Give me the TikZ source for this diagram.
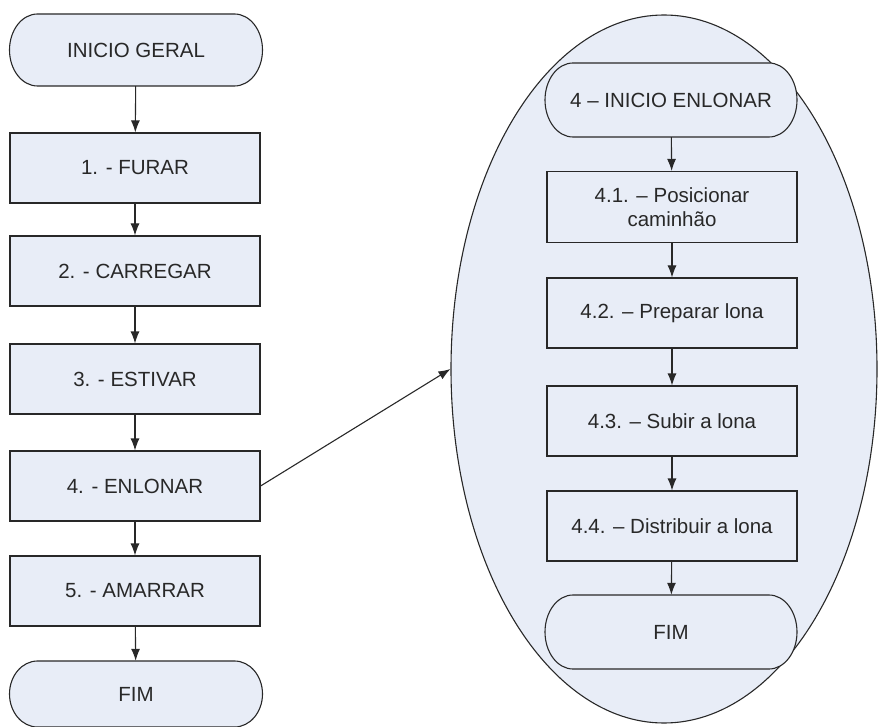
\documentclass[tikz,border=0pt]{standalone}
\usepackage{fontspec}
\setmainfont{Liberation Sans}
\usetikzlibrary{shapes.geometric,arrows.meta}
\definecolor{boxfill}{RGB}{232,237,247}
\definecolor{ink}{RGB}{40,40,40}
\definecolor{txt}{RGB}{40,40,40}
% start/end outline: straight top and bottom, half-elliptic ends
% #1,#2 centre; #3 half width; #4 half height
\newcommand\termoutline[4]{%
  \draw[draw=ink, line width=1.1pt, fill=boxfill]
    (#1-#3+28,#2-#4) -- (#1+#3-28,#2-#4)
    arc[start angle=-90, end angle=90, x radius=28, y radius=#4]
    -- (#1-#3+28,#2+#4)
    arc[start angle=90, end angle=270, x radius=28, y radius=#4] -- cycle;}
\begin{document}
\begin{tikzpicture}[x=1pt,y=-1pt,
  every node/.style={font=\fontsize{20.5}{24}\selectfont, text=txt},
  stepbox/.style={draw=ink, line width=1.1pt, fill=boxfill, rectangle,
    minimum width=250pt, minimum height=70pt, inner sep=0pt, align=center},
  terminal/.style={rectangle, minimum width=253pt, inner sep=0pt, align=center},
  flow/.style={draw=ink, line width=1.1pt, -{Latex[length=12pt,width=9pt]}}]
  \useasboundingbox (0,0) rectangle (878,727);

  % main process, left column
  \termoutline{136}{50}{126.5}{36}
  \node[terminal, minimum height=72pt] (ini) at (136,50) {INICIO GERAL};
  \node[stepbox] (s1) at (135,168) {1. - FURAR};
  \node[stepbox] (s2) at (135,271) {2. - CARREGAR};
  \node[stepbox] (s3) at (135,379) {3. - ESTIVAR};
  \node[stepbox] (s4) at (135,486) {4. - ENLONAR};
  \node[stepbox] (s5) at (135,591) {5. - AMARRAR};
  \termoutline{136}{694}{126.5}{33}
  \node[terminal, minimum height=66pt] (fim) at (136,694) {FIM};

  \draw[flow] (ini) -- (s1);
  \draw[flow] (s1) -- (s2);
  \draw[flow] (s2) -- (s3);
  \draw[flow] (s3) -- (s4);
  \draw[flow] (s4) -- (s5);
  \draw[flow] (s5) -- (fim);

  % detail of step 4, inside the ellipse
  \node[ellipse, draw=ink, line width=1.1pt, fill=boxfill, inner sep=0pt,
    minimum width=426pt, minimum height=708pt] (sub) at (664,369) {};

  \termoutline{671}{100}{126}{37}
  \node[terminal, minimum height=74pt] (eini) at (671,100) {4 -- INICIO ENLONAR};
  \node[stepbox, minimum height=71pt] (e1) at (672,207) {4.1. -- Posicionar\\caminhão};
  \node[stepbox] (e2) at (672,313) {4.2. -- Preparar lona};
  \node[stepbox] (e3) at (672,421) {4.3. -- Subir a lona};
  \node[stepbox] (e4) at (672,526) {4.4. -- Distribuir a lona};
  \termoutline{671}{632}{126}{37}
  \node[terminal, minimum height=74pt] (efim) at (671,632) {FIM};

  \draw[flow] (eini) -- (e1);
  \draw[flow] (e1) -- (e2);
  \draw[flow] (e2) -- (e3);
  \draw[flow] (e3) -- (e4);
  \draw[flow] (e4) -- (efim);

  % link from step 4 to its detail
  \draw[flow] (s4.east) -- (sub.west);
\end{tikzpicture}
\end{document}
